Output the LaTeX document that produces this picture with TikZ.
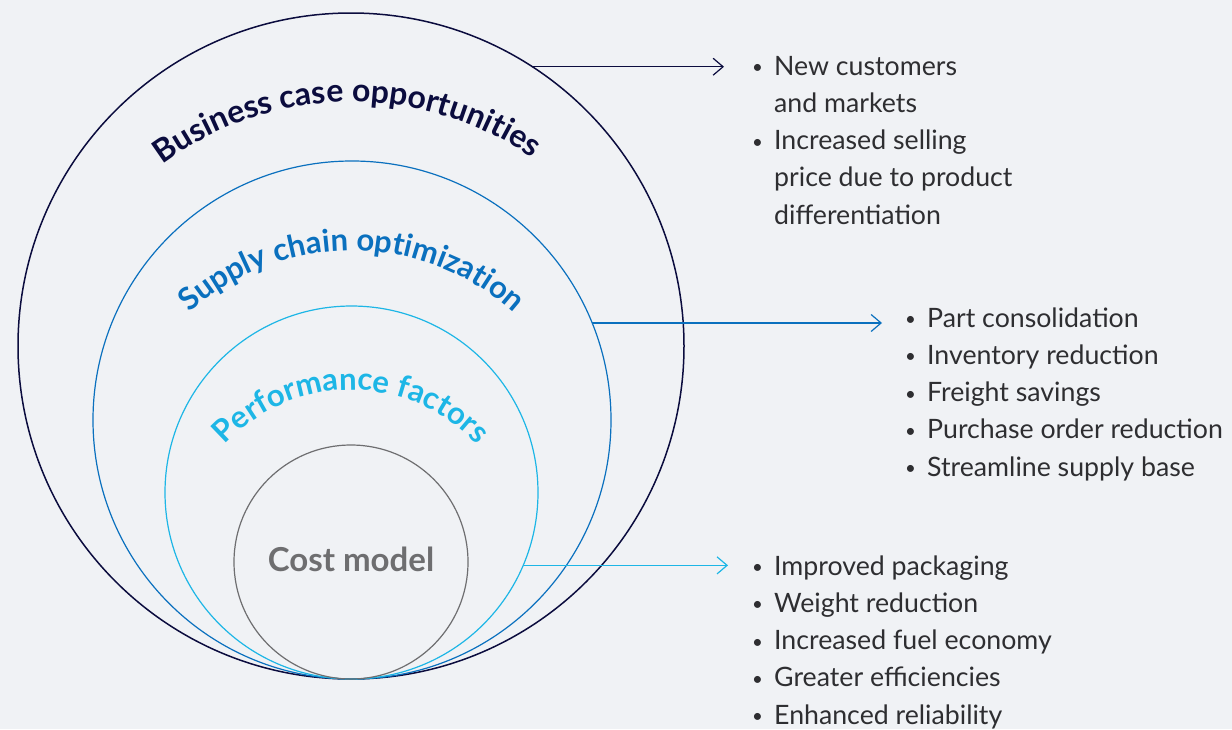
\documentclass[tikz,border=0pt]{standalone}
\usepackage{fontspec}
\setmainfont{Lato}
\usetikzlibrary{arrows.meta,decorations.text}

\definecolor{navy}{HTML}{0B0C3E}
\definecolor{midblue}{HTML}{0A70BE}
\definecolor{skyblue}{HTML}{1DB6E6}
\definecolor{costgray}{HTML}{6E6E70}
\definecolor{bodytext}{HTML}{2E2E31}
\definecolor{bggray}{HTML}{F0F2F5}

\newcommand{\itm}{\makebox[22pt][l]{\raisebox{1.5pt}{\scalebox{0.7}{\textbullet}}}}
\newcommand{\gap}{\hspace*{22pt}}

\begin{document}
\begin{tikzpicture}[x=1pt,y=-1pt,
  ring/.style={circle,draw,inner sep=0pt,outer sep=0pt,line width=1.2pt},
  pointer/.style={-{Straight Barb[length=10pt,width=17pt]},line width=1.2pt},
  bullets/.style={anchor=base west,inner sep=0pt,align=left,text=bodytext,
    font=\fontsize{26.7}{37.3}\selectfont},
  arctext/.style={decorate,decoration={text along path,text align=center,#1}}]

\fill[bggray] (0,0) rectangle (1232,729);
\useasboundingbox (0,0) rectangle (1232,729);

\node[ring,draw=navy,line width=1.5pt,minimum size=666pt] (biz) at (351,346) {};
\node[ring,draw=midblue,minimum size=518pt] (supply) at (352,420) {};
\node[ring,draw=skyblue,minimum size=373pt] (perf) at (351.5,492.5) {};
\node[ring,draw=costgray,minimum size=234pt] (cost) at (351,562) {};
\node[text=costgray,font=\bfseries\fontsize{33}{33}\selectfont] (costtext) at ([yshift=3pt]cost.center) {Cost model};

\path[arctext={text={|\bfseries\fontsize{32}{32}\selectfont|Business case opportunities},text color=navy}]
  (352,420) ++(166:318pt) arc[start angle=166,end angle=16,radius=318pt];
\path[arctext={text={|\bfseries\fontsize{31}{31}\selectfont|Supply chain optimization},text color=midblue}]
  (351.5,492.5) ++(170:242pt) arc[start angle=170,end angle=10,radius=242pt];
\path[arctext={text={|\bfseries\fontsize{31}{31}\selectfont|Performance factors},text color=skyblue}]
  (351,562) ++(180:172pt) arc[start angle=180,end angle=0,radius=172pt];

\coordinate (bizend) at (724,66);
\coordinate (supplyend) at (882,319);
\coordinate (perfend) at (728,567);
\draw[pointer,navy] (biz.57.3) -- (biz.57.3 -| bizend);
\draw[pointer,midblue] (supply.22.95) -- (supply.22.95 -| supplyend);
\draw[pointer,skyblue] (perf.-23.54) -- (perf.-23.54 -| perfend);

\node[bullets] (bizlist) at (752,224.2) {\itm New customers\\ \gap and markets\\ \itm Increased selling\\ \gap price due to product\\ \gap differentiation};
\node[bullets] (supplylist) at (905,476.2) {\itm Part consolidation\\ \itm Inventory reduction\\ \itm Freight savings\\ \itm Purchase order reduction\\ \itm Streamline supply base};
\node[bullets] (perflist) at (752,724.2) {\itm Improved packaging\\ \itm Weight reduction\\ \itm Increased fuel economy\\ \itm Greater efficiencies\\ \itm Enhanced reliability};
\end{tikzpicture}
\end{document}
